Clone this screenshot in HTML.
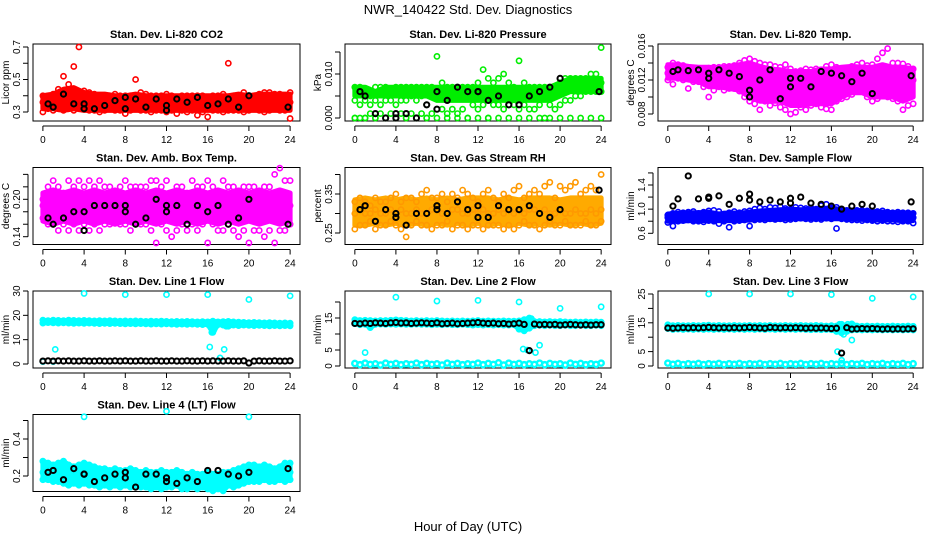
<!DOCTYPE html>
<html><head><meta charset="utf-8"><style>
body{margin:0;background:#fff;}
svg{display:block;font-family:"Liberation Sans",sans-serif;}
</style></head><body>
<svg id="chart" width="936" height="540" viewBox="0 0 936 540" xmlns="http://www.w3.org/2000/svg">
<text x="468" y="14" text-anchor="middle" font-size="13">NWR_140422  Std. Dev. Diagnostics</text>
<text x="468" y="531" text-anchor="middle" font-size="13">Hour of Day (UTC)</text>
</svg>
<script>
const hoursHalf = [0,0.5,1,1.5,2,2.5,3,3.5,4,4.5,5,5.5,6,6.5,7,7.5,8,8.5,9,9.5,10,10.5,11,11.5,12,12.5,13,13.5,14,14.5,15,15.5,16,16.5,17,17.5,18,18.5,19,19.5,20,20.5,21,21.5,22,22.5,23,23.5,24];
const hoursFull = [0.5,1,2,3,4,4,5,6,7,8,8,9,10,11,12,12,13,14,15,16,17,18,19,20,23.8];
const hoursBand = [0,1,2,3,4,5,6,7,8,9,10,11,12,13,14,15,16,17,18,19,20,21,22,23,24];
const xTicks = [0,4,8,12,16,20,24];

const co2BandTop = [.40,.41,.44,.45,.42,.41,.41,.40,.40,.41,.40,.40,.40,.40,.40,.40,.40,.40,.40,.41,.40,.41,.41,.41,.41];
const co2BandBot = [.32,.32,.31,.32,.31,.31,.31,.31,.31,.31,.31,.31,.31,.31,.31,.31,.31,.31,.31,.31,.31,.31,.31,.31,.31];
const co2Hi = [.40,.40,.41,.44,.52,.47,.58,.70,.43,.42,.41,.40,.40,.40,.41,.40,.40,.40,.50,.42,.41,.40,.40,.40,.41,.40,.39,.40,.40,.40,.40,.40,.39,.40,.40,.41,.60,.40,.39,.42,.40,.40,.41,.42,.42,.41,.41,.40,.42];
const co2Mid = [.36,.35,.37,.38,.36,.36,.37,.36,.36,.35,.36,.37,.35,.36,.36,.35,.36,.37,.35,.36,.36,.35,.36,.36,.35,.36,.36,.35,.36,.35,.36,.36,.35,.36,.35,.36,.36,.35,.36,.35,.36,.35,.36,.36,.37,.36,.36,.35,.36];
const co2Lo = [.30,.32,.31,.32,.31,.32,.31,.32,.32,.31,.31,.30,.31,.32,.31,.31,.29,.31,.32,.31,.31,.30,.31,.31,.30,.31,.29,.31,.30,.31,.28,.30,.27,.31,.31,.30,.31,.31,.31,.30,.31,.32,.31,.30,.31,.32,.31,.31,.26];
const co2Black = [.35,.33,.41,.35,.35,.32,.32,.34,.37,.32,.39,.38,.33,.38,.31,.34,.38,.36,.39,.34,.35,.38,.33,.40,.33];

const presBandTop = [.007,.007,.006,.007,.007,.007,.007,.007,.007,.007,.007,.007,.007,.007,.007,.007,.007,.007,.007,.007,.008,.009,.009,.009,.009];
const presBandBot = [.005,.005,.005,.005,.005,.005,.005,.005,.004,.004,.004,.004,.004,.004,.004,.004,.004,.004,.004,.004,.005,.006,.006,.006,.006];
const presHi = [.007,.007,.006,.005,.007,.007,.007,.006,.007,.007,.007,.007,.007,.007,.007,.007,.014,.008,.007,.007,.007,.007,.007,.007,.008,.011,.009,.008,.009,.010,.008,.007,.013,.008,.007,.007,.007,.007,.007,.007,.008,.009,.009,.009,.009,.009,.010,.010,.016];
const presMid = [.004,.003,.004,.003,.004,.003,.004,.004,.003,.004,.004,.005,.004,.005,.003,.005,.006,.006,.006,.005,.005,.006,.006,.006,.006,.006,.006,.006,.006,.006,.006,.005,.006,.005,.005,.005,.005,.005,.005,.006,.006,.007,.007,.008,.008,.008,.008,.008,.008];
const presLo = [0,0,0,.001,0,.001,0,.001,0,.001,0,.001,0,.001,0,.001,.002,.002,.001,.002,.001,.002,0,.003,.002,.003,0,.003,.003,.002,.003,.003,.002,.003,.002,.002,.003,0,.003,.002,.003,.004,.004,.005,.005,.006,.006,.006,.006];
const presZero = [0,0,0,0,0,0,0,0,0,0,0,0,0,0,0,0,0,0,0,0,0,0,0,0,0];
const presBlack = [.006,.005,.001,0,0,.001,.001,0,.003,.006,.002,.004,.007,.006,.006,.006,.004,.005,.003,.003,.005,.006,.007,.009,.006];

const ltBandTop = [.0138,.0138,.0136,.0135,.0135,.0134,.0136,.0138,.0140,.0136,.0133,.0132,.0130,.0130,.0130,.0133,.0133,.0135,.0136,.0135,.0135,.0138,.0135,.0135,.0133];
const ltBandBot = [.0122,.0122,.0120,.0118,.0112,.0112,.0110,.0108,.0100,.0095,.0095,.0095,.0090,.0090,.0092,.0092,.0092,.0100,.0105,.0105,.0100,.0100,.0100,.0095,.0100];
const ltHi = [.0135,.0140,.0138,.0137,.0135,.0134,.0133,.0132,.0134,.0135,.0135,.0136,.0136,.0137,.0140,.0143,.0145,.0142,.0140,.0138,.0138,.0136,.0135,.0138,.0133,.0130,.0131,.0133,.0132,.0133,.0132,.0136,.0138,.0135,.0133,.0134,.0136,.0138,.0140,.0137,.0138,.0145,.0152,.0157,.0140,.0140,.0139,.0136,.0133];
const ltMid = [.0128,.0129,.0128,.0130,.0130,.0128,.0124,.0125,.0122,.0126,.0124,.0125,.0124,.0123,.0123,.0122,.0120,.0118,.0115,.0118,.0116,.0118,.0114,.0112,.0110,.0113,.0115,.0112,.0115,.0116,.0113,.0112,.0113,.0116,.0117,.0118,.0122,.0124,.0122,.0120,.0118,.0120,.0124,.0122,.0118,.0117,.0115,.0118,.0120];
const ltLo = [.0120,.0115,.0122,.0120,.0110,.0118,.0118,.0112,.0100,.0108,.0112,.0108,.0110,.0110,.0107,.0100,.0095,.0092,.0085,.0095,.0090,.0093,.0088,.0085,.0080,.0082,.0088,.0085,.0090,.0092,.0088,.0086,.0085,.0095,.0098,.0100,.0103,.0110,.0108,.0100,.0095,.0098,.0102,.0100,.0098,.0095,.0085,.0090,.0092];
const ltBlack = [.0130,.0132,.0131,.0132,.0122,.0128,.0132,.0128,.0124,.0100,.0108,.0120,.0132,.0098,.0112,.0122,.0122,.0112,.0130,.0128,.0125,.0118,.0128,.0104,.0125];

const abBandTop = [.21,.215,.21,.215,.21,.215,.21,.215,.21,.215,.21,.215,.21,.215,.21,.215,.21,.215,.21,.215,.21,.215,.21,.215,.21];
const abBandBot = [.165,.16,.165,.16,.165,.16,.165,.16,.165,.16,.165,.16,.165,.16,.165,.16,.165,.16,.165,.16,.165,.16,.165,.16,.165];
const abHi = [.20,.22,.23,.22,.21,.23,.22,.23,.22,.23,.22,.23,.22,.22,.21,.22,.23,.22,.22,.22,.22,.23,.23,.22,.23,.21,.22,.22,.21,.23,.22,.22,.23,.22,.21,.23,.22,.22,.21,.22,.22,.22,.21,.22,.22,.24,.25,.23,.23];
const abMid = [.19,.18,.19,.18,.18,.19,.19,.18,.18,.19,.18,.19,.18,.18,.19,.18,.18,.19,.19,.18,.18,.19,.18,.18,.19,.18,.19,.18,.18,.19,.18,.19,.19,.18,.18,.19,.18,.19,.18,.18,.19,.18,.18,.19,.18,.19,.18,.18,.19];
const abLo = [.17,.16,.16,.15,.16,.15,.16,.15,.16,.15,.16,.15,.16,.16,.17,.16,.16,.15,.16,.16,.16,.15,.13,.16,.15,.14,.15,.16,.15,.16,.15,.16,.13,.16,.15,.15,.16,.15,.14,.15,.13,.15,.15,.14,.15,.13,.15,.15,.16];
const abBlack = [.17,.16,.17,.18,.18,.15,.19,.19,.19,.18,.19,.16,.17,.20,.18,.19,.19,.16,.19,.18,.19,.16,.17,.20,.16];

const rhBandTop = [.335,.34,.335,.34,.335,.34,.335,.34,.335,.34,.335,.34,.34,.34,.335,.34,.335,.34,.34,.34,.335,.34,.34,.34,.34];
const rhBandBot = [.27,.27,.275,.27,.275,.27,.275,.27,.275,.27,.275,.27,.275,.27,.275,.27,.275,.27,.275,.27,.275,.27,.275,.27,.275];
const rhHi = [.33,.34,.33,.32,.34,.33,.33,.34,.35,.33,.34,.34,.33,.35,.36,.34,.34,.35,.33,.35,.34,.36,.35,.34,.33,.35,.36,.34,.33,.35,.34,.36,.37,.34,.35,.36,.35,.37,.38,.34,.37,.36,.37,.38,.35,.36,.37,.36,.40];
const rhMid = [.30,.31,.30,.30,.31,.30,.30,.31,.30,.31,.30,.30,.31,.30,.30,.31,.31,.30,.30,.31,.31,.30,.30,.31,.30,.31,.30,.30,.31,.30,.31,.30,.31,.30,.31,.31,.30,.31,.30,.30,.31,.30,.30,.31,.30,.30,.31,.30,.31];
const rhLo = [.26,.27,.27,.28,.26,.27,.27,.28,.27,.26,.24,.27,.28,.27,.27,.26,.27,.27,.28,.26,.27,.27,.26,.27,.27,.26,.27,.27,.27,.26,.27,.26,.27,.28,.27,.27,.26,.27,.28,.27,.27,.28,.27,.27,.27,.28,.27,.27,.28];
const rhBlack = [.31,.32,.28,.31,.29,.30,.27,.30,.30,.31,.32,.30,.33,.31,.29,.32,.29,.32,.31,.31,.32,.30,.29,.31,.36];

const sfBandTop = [.92,.93,.94,.94,.95,.92,.94,.93,.95,.97,.98,.99,1.00,.99,1.00,1.01,1.02,.99,.98,.97,.96,.95,.94,.94,.93];
const sfBandBot = [.80,.80,.81,.81,.81,.81,.81,.81,.82,.83,.83,.83,.84,.84,.84,.84,.84,.84,.83,.83,.82,.82,.82,.81,.81];
const sfHi = [.90,.93,.95,.94,.95,.96,.93,.95,.97,.98,.96,.92,.94,.96,.94,.96,.97,1.00,1.02,1.00,1.03,1.02,1.04,1.01,1.00,1.03,1.02,1.01,1.02,1.00,1.06,1.08,1.02,1.03,1.00,.98,.97,.98,.98,.97,.96,.96,.97,.95,.94,.95,.94,.94,.93];
const sfMid = [.86,.85,.87,.86,.87,.86,.87,.88,.87,.88,.86,.85,.86,.87,.86,.87,.88,.89,.90,.90,.91,.91,.92,.91,.92,.92,.93,.92,.92,.91,.93,.94,.92,.92,.91,.90,.89,.89,.89,.88,.88,.88,.88,.87,.87,.87,.86,.86,.86];
const sfLo = [.78,.72,.80,.81,.82,.80,.80,.79,.81,.80,.76,.80,.70,.80,.81,.82,.72,.82,.83,.82,.84,.83,.84,.82,.83,.84,.85,.84,.83,.84,.83,.85,.84,.68,.84,.83,.82,.82,.81,.82,.81,.80,.81,.80,.80,.79,.80,.80,.77];
const sfBlack = [1.05,1.17,1.55,1.17,1.20,1.18,1.22,1.08,1.18,1.25,1.15,1.12,1.15,1.12,1.10,1.18,1.20,1.10,1.08,1.05,1.00,1.05,1.08,1.05,1.12];

const l1Hi = [18.0,17.8,18.0,17.9,17.8,18.0,17.9,17.8,17.9,17.8,17.7,17.8,17.7,17.8,17.7,17.6,17.7,17.6,17.7,17.6,17.5,17.6,17.5,17.6,17.5,17.4,17.5,17.4,17.5,17.4,17.3,17.4,17.3,17.6,17.3,17.4,17.5,17.3,17.2,17.1,17.0,17.1,17.0,16.9,17.0,16.9,16.8,16.9,16.8];
const l1Lo = [16.8,17.0,16.9,16.8,16.9,16.8,16.7,16.8,16.7,16.8,16.7,16.6,16.7,16.6,16.7,16.6,16.5,16.6,16.5,16.6,16.5,16.4,16.5,16.4,16.5,16.4,16.3,16.4,16.3,16.4,16.3,16.2,16.3,13.0,16.2,16.0,15.5,16.0,15.8,16.0,15.9,15.8,15.9,15.8,15.7,15.8,15.7,15.8,15.7];
const l1Black = [1.2,1.3,1.2,1.3,1.2,1.3,1.2,1.2,1.3,1.2,1.2,1.3,1.2,1.2,1.3,1.2,1.3,1.2,1.2,1.3,1.2,1.2,1.3,1.2,1.2,1.3,1.2,1.2,1.3,1.2,1.2,1.3,1.2,1.3,1.2,1.2,1.3,1.2,1.2,1.3,0.4,1.2,1.3,1.2,1.2,1.3,1.2,1.2,1.3];
const l1OutH = [0,1,1.2,4,8,12,16,16.2,16.4,16.6,17.2,17.6,17.8,20,24];
const l1OutV = [1,1,6,29,28.5,28.5,28.5,7,13,14,2.5,6,15.5,26.5,28];

const l2Hi = [14.5,14.2,14.3,14.2,14.1,14.2,14.2,14.3,14.4,14.3,14.2,14.1,14.2,14.1,14.2,14.1,14.2,14.1,14.0,14.1,14.0,14.1,14.0,14.1,14.2,14.0,14.1,14.0,14.0,14.1,14.0,14.0,14.1,14.5,15.0,13.9,13.9,13.8,13.9,13.8,13.9,13.8,13.7,13.8,13.7,13.8,13.7,13.8,13.7];
const l2Lo = [13.2,12.9,13.0,12.0,13.0,13.1,13.0,13.1,13.0,13.1,13.0,13.0,13.1,13.0,13.0,12.9,13.0,12.9,13.0,12.9,12.9,13.0,12.9,12.8,12.9,12.8,12.9,12.8,12.9,12.8,12.8,12.9,11.5,11.0,11.8,12.6,12.7,12.6,12.7,12.6,12.6,12.7,12.6,12.6,12.7,12.6,12.6,12.7,12.6];
const l2Base = [0.8,0.4,0.9,0.5,0.7,0.3,0.9,0.5,0.8,0.4,0.7,0.5,0.9,0.4,0.8,0.5,0.7,0.3,0.9,0.5,0.8,0.4,0.7,0.5,0.9,0.4,0.8,0.5,1.0,0.3,0.9,0.5,0.8,0.4,0.7,0.5,0.9,0.4,0.8,0.5,0.7,0.3,0.9,0.5,0.8,0.4,0.7,0.5,0.9];
const l2Black = [13.3,13.2,13.4,13.3,13.5,13.4,13.3,13.5,13.6,13.4,13.5,13.3,13.4,13.5,13.4,13.3,13.5,13.2,13.3,13.4,13.2,13.3,13.4,13.5,13.6,13.4,13.3,13.4,13.2,13.3,13.1,13.2,13.4,13.0,4.8,13.1,12.9,13.0,12.9,13.0,12.8,12.9,13.0,12.9,12.8,12.9,12.8,12.9,12.9];
const l2OutH = [1,4,8,12,16,16.4,16.8,17,17.2,17.6,18,20,24];
const l2OutV = [4.2,21.5,20.3,20.5,20,5.3,5,12,14.8,4.2,6.5,18,18.5];

const l3Hi = [14.3,14.0,14.1,14.0,14.0,14.1,14.0,14.1,14.2,14.0,14.1,14.0,14.0,14.1,14.0,14.0,14.1,14.0,14.1,14.0,14.1,14.0,14.0,14.1,14.0,14.0,14.1,14.0,14.0,14.1,14.0,13.9,14.0,13.9,14.5,13.9,14.6,13.9,13.8,13.9,13.8,13.9,13.8,13.8,13.9,13.8,13.8,13.9,13.8];
const l3Lo = [13.0,12.7,12.8,12.7,12.8,12.7,12.8,12.7,12.8,12.7,12.8,12.7,12.8,12.7,12.8,12.7,12.8,12.7,12.8,12.7,12.8,12.7,12.8,12.7,12.8,12.7,12.8,12.7,12.6,12.7,12.6,12.7,12.6,12.0,11.5,12.0,12.5,12.6,12.5,12.6,12.5,12.6,12.5,12.6,12.5,12.6,12.5,12.6,12.5];
const l3Base = [1.0,0.6,0.9,0.5,0.8,0.6,0.9,0.5,0.8,0.6,0.9,0.5,0.8,0.6,0.9,0.5,0.8,0.6,0.9,0.5,0.8,0.6,0.9,0.5,0.8,0.6,0.9,0.5,0.8,0.6,0.9,0.5,0.8,0.6,0.9,0.5,0.8,0.6,0.9,0.5,0.8,0.6,0.9,0.5,0.8,0.6,0.9,0.5,0.8];
const l3Black = [13.2,13.1,13.2,13.3,13.2,13.3,13.2,13.3,13.4,13.3,13.2,13.3,13.2,13.3,13.2,13.3,13.4,13.3,13.2,13.1,13.4,13.3,13.2,13.3,13.2,13.3,13.2,13.1,13.2,13.1,13.2,13.1,13.0,13.1,4.5,13.3,12.8,12.9,13.0,12.9,13.0,12.9,12.8,12.9,12.8,12.9,12.8,12.9,12.9];
const l3OutH = [4,8,12,16,16.6,16.8,17,17.2,17.6,18,20,24];
const l3OutV = [25,25,25,24.8,5,14.5,2,11,14.5,9,23.5,24];

const l4Hi = [.28,.27,.26,.27,.28,.26,.25,.26,.27,.26,.25,.24,.24,.23,.24,.23,.23,.24,.23,.22,.23,.22,.22,.23,.22,.22,.23,.22,.21,.22,.21,.21,.22,.21,.21,.22,.22,.23,.24,.25,.26,.26,.25,.26,.25,.24,.25,.27,.27];
const l4Mid = [.22,.22,.21,.22,.21,.20,.21,.20,.20,.21,.20,.19,.20,.19,.19,.20,.19,.20,.19,.19,.20,.19,.19,.18,.19,.19,.19,.18,.19,.18,.18,.19,.18,.18,.18,.19,.19,.20,.20,.21,.21,.21,.21,.22,.21,.21,.22,.21,.22];
const l4Lo = [.18,.18,.17,.17,.16,.15,.16,.15,.16,.15,.15,.14,.15,.14,.15,.14,.15,.14,.15,.14,.14,.13,.14,.13,.14,.14,.15,.13,.13,.14,.13,.14,.13,.12,.13,.12,.15,.14,.15,.16,.17,.17,.17,.18,.17,.17,.18,.17,.18];
const l4OutH = [4,12,20];
const l4OutV = [.52,.55,.52];
const l4Black = [.22,.23,.18,.24,.21,.21,.17,.19,.21,.22,.19,.14,.21,.21,.17,.19,.16,.19,.17,.23,.23,.21,.20,.22,.24];

const NS = 'http://www.w3.org/2000/svg';
const svg = document.getElementById('chart');
function mk(tag, attrs, parent){ const e=document.createElementNS(NS,tag); for(const k in attrs) e.setAttribute(k,attrs[k]); (parent||svg).appendChild(e); return e; }

const colX = [[33,300],[345,611],[658,923]];
const rowTop = [44,167.5,291,414.5];
const BOXH = 77;

function panel(o){
  const g = mk('g',{});
  
  
  const [L,R] = colX[o.col]; const T = rowTop[o.row]; const B = T+BOXH;
  const xs = h => L + (h+0.96)*(R-L)/25.92;
  const ys = v => o.ref[1] + (v-o.ref[0])*(o.ref[3]-o.ref[1])/(o.ref[2]-o.ref[0]);
  const box = mk('rect',{x:L,y:T,width:R-L,height:BOXH,fill:'none',stroke:'#000','stroke-width':1},g);
  
  
  const t = mk('text',{x:(L+R)/2,y:T-6,'text-anchor':'middle','font-size':11,'font-weight':'bold'},g);
  t.textContent = o.title;
  
  
  const xa = mk('g',{},g);
  
  
  mk('line',{x1:xs(0),x2:xs(24),y1:B+5,y2:B+5,stroke:'#000'},xa);
  xTicks.forEach(h=>{
    mk('line',{x1:xs(h),x2:xs(h),y1:B+5,y2:B+10,stroke:'#000'},xa);
    const tl = mk('text',{x:xs(h),y:B+22,'text-anchor':'middle','font-size':10},xa);
    tl.textContent = h;
    
    
  });
  const ya = mk('g',{},g);
  
  
  const ay0 = ys(o.yt[0]), ay1 = ys(o.yt[o.yt.length-1]);
  mk('line',{x1:L-5,x2:L-5,y1:ay0,y2:ay1,stroke:'#000'},ya);
  o.yt.forEach((v,i)=>{
    mk('line',{x1:L-5,x2:L-10,y1:ys(v),y2:ys(v),stroke:'#000'},ya);
    if(o.yl[i]){
      const tl = mk('text',{x:0,y:0,'text-anchor':'middle','font-size':10,transform:`translate(${L-13},${ys(v)}) rotate(-90)`},ya);
      tl.textContent = o.yl[i];
      
      
    }
  });
  const yt = mk('text',{x:0,y:0,'text-anchor':'middle','font-size':10,transform:`translate(${L-24},${(T+B)/2}) rotate(-90)`},g);
  yt.textContent = o.ylab;
  
  
  o.series.forEach(s=>{
    if(s.band){
      const pts = s.hours.map((h,i)=>xs(h)+','+ys(s.top[i])).concat(s.hours.slice().reverse().map((h,j)=>xs(h)+','+ys(s.bot[s.hours.length-1-j])));
      const p = mk('polygon',{points:pts.join(' '),fill:s.color,stroke:s.color,'stroke-width':5,'stroke-linejoin':'round'},g);
      
      
      return;
    }
    const sg = mk('g',{fill:'none',stroke:s.color,'stroke-width':s.w||1.6},g);
    
    
    s.vals.forEach((v,i)=>{
      const c = mk('circle',{cx:xs(s.hours[i]),cy:ys(v),r:2.6},sg);
      
      
    });
  });
}

const HH = hoursHalf, HF = hoursFull, HB = hoursBand;
panel({name:'panel-co2',col:0,row:0,title:'Stan. Dev. Li-820 CO2',ylab:'Licor ppm',ref:[.3,112,.7,47],yt:[.3,.4,.5,.6,.7],yl:['0.3','','0.5','','0.7'],
  series:[{band:1,name:'co2-cloud',color:'#ff0000',hours:HB,top:co2BandTop,bot:co2BandBot},{name:'co2-series-hi',color:'#ff0000',hours:HH,vals:co2Hi},{name:'co2-series-mid',color:'#ff0000',hours:HH,vals:co2Mid},{name:'co2-series-lo',color:'#ff0000',hours:HH,vals:co2Lo},{name:'co2-black-series',color:'#000',w:2,hours:HF,vals:co2Black}]});
panel({name:'panel-pressure',col:1,row:0,title:'Stan. Dev. Li-820 Pressure',ylab:'kPa',ref:[0,118,.01,74],yt:[0,.005,.01,.015],yl:['0.000','','0.010',''],
  series:[{band:1,name:'pressure-cloud',color:'#00ee00',hours:HB,top:presBandTop,bot:presBandBot},{name:'pressure-zero-row',color:'#00ee00',hours:HB,vals:presZero},{name:'pressure-series-hi',color:'#00ee00',hours:HH,vals:presHi},{name:'pressure-series-mid',color:'#00ee00',hours:HH,vals:presMid},{name:'pressure-series-lo',color:'#00ee00',hours:HH,vals:presLo},{name:'pressure-black-series',color:'#000',w:2,hours:HF,vals:presBlack}]});
panel({name:'panel-li820-temp',col:2,row:0,title:'Stan. Dev. Li-820 Temp.',ylab:'degrees C',ref:[.008,114,.016,46],yt:[.008,.010,.012,.014,.016],yl:['0.008','','0.012','','0.016'],
  series:[{band:1,name:'temp-cloud',color:'#ff00ff',hours:HB,top:ltBandTop,bot:ltBandBot},{name:'temp-series-hi',color:'#ff00ff',hours:HH,vals:ltHi},{name:'temp-series-mid',color:'#ff00ff',hours:HH,vals:ltMid},{name:'temp-series-lo',color:'#ff00ff',hours:HH,vals:ltLo},{name:'temp-black-series',color:'#000',w:2,hours:HF,vals:ltBlack}]});
panel({name:'panel-amb-box-temp',col:0,row:1,title:'Stan. Dev. Amb. Box Temp.',ylab:'degrees C',ref:[.14,236.7,.20,199.3],yt:[.14,.16,.18,.20,.22,.24],yl:['0.14','','','0.20','',''],
  series:[{band:1,name:'ambbox-cloud',color:'#ff00ff',hours:HB,top:abBandTop,bot:abBandBot},{name:'ambbox-series-hi',color:'#ff00ff',hours:HH,vals:abHi},{name:'ambbox-series-mid',color:'#ff00ff',hours:HH,vals:abMid},{name:'ambbox-series-lo',color:'#ff00ff',hours:HH,vals:abLo},{name:'ambbox-black-series',color:'#000',w:2,hours:HF,vals:abBlack}]});
panel({name:'panel-gas-stream-rh',col:1,row:1,title:'Stan. Dev. Gas Stream RH',ylab:'percent',ref:[.25,233,.35,194],yt:[.25,.30,.35,.40],yl:['0.25','','0.35',''],
  series:[{band:1,name:'rh-cloud',color:'#ffaa00',hours:HB,top:rhBandTop,bot:rhBandBot},{name:'rh-series-hi',color:'#ff9900',hours:HH,vals:rhHi},{name:'rh-series-mid',color:'#ff9900',hours:HH,vals:rhMid},{name:'rh-series-lo',color:'#ff9900',hours:HH,vals:rhLo},{name:'rh-black-series',color:'#000',w:2,hours:HF,vals:rhBlack}]});
panel({name:'panel-sample-flow',col:2,row:1,title:'Stan. Dev. Sample Flow',ylab:'ml/min',ref:[.6,233.3,1.4,185],yt:[.6,.8,1.0,1.2,1.4,1.6],yl:['0.6','','1.0','','1.4',''],
  series:[{band:1,name:'sample-flow-cloud',color:'#0000ff',hours:HB,top:sfBandTop,bot:sfBandBot},{name:'sample-flow-series-hi',color:'#0000ff',hours:HH,vals:sfHi},{name:'sample-flow-series-mid',color:'#0000ff',hours:HH,vals:sfMid},{name:'sample-flow-series-lo',color:'#0000ff',hours:HH,vals:sfLo},{name:'sample-flow-black-series',color:'#000',w:2,hours:HF,vals:sfBlack}]});
panel({name:'panel-line1-flow',col:0,row:2,title:'Stan. Dev. Line 1 Flow',ylab:'ml/min',ref:[0,364,30,291],yt:[0,10,20,30],yl:['0','10','20','30'],
  series:[{band:1,name:'line1-cloud',color:'#00ffff',hours:HH,top:l1Hi,bot:l1Lo},{name:'line1-cyan-hi',color:'#00ffff',hours:HH,vals:l1Hi},{name:'line1-cyan-lo',color:'#00ffff',hours:HH,vals:l1Lo},{name:'line1-cyan-outliers',color:'#00ffff',hours:l1OutH,vals:l1OutV},{name:'line1-black-series',color:'#000',w:2,hours:HH,vals:l1Black}]});
panel({name:'panel-line2-flow',col:1,row:2,title:'Stan. Dev. Line 2 Flow',ylab:'ml/min',ref:[0,366,15,318],yt:[0,5,10,15,20],yl:['0','5','','15',''],
  series:[{band:1,name:'line2-cloud',color:'#00ffff',hours:HH,top:l2Hi,bot:l2Lo},{name:'line2-cyan-hi',color:'#00ffff',hours:HH,vals:l2Hi},{name:'line2-cyan-lo',color:'#00ffff',hours:HH,vals:l2Lo},{name:'line2-cyan-base',color:'#00ffff',w:2.4,hours:HH,vals:l2Base},{name:'line2-cyan-outliers',color:'#00ffff',hours:l2OutH,vals:l2OutV},{name:'line2-black-series',color:'#000',w:2,hours:HH,vals:l2Black}]});
panel({name:'panel-line3-flow',col:2,row:2,title:'Stan. Dev. Line 3 Flow',ylab:'ml/min',ref:[0,366,25,294],yt:[0,5,10,15,20,25],yl:['0','5','','15','','25'],
  series:[{band:1,name:'line3-cloud',color:'#00ffff',hours:HH,top:l3Hi,bot:l3Lo},{name:'line3-cyan-hi',color:'#00ffff',hours:HH,vals:l3Hi},{name:'line3-cyan-lo',color:'#00ffff',hours:HH,vals:l3Lo},{name:'line3-cyan-base',color:'#00ffff',w:2.4,hours:HH,vals:l3Base},{name:'line3-cyan-outliers',color:'#00ffff',hours:l3OutH,vals:l3OutV},{name:'line3-black-series',color:'#000',w:2,hours:HH,vals:l3Black}]});
panel({name:'panel-line4-flow',col:0,row:3,title:'Stan. Dev. Line 4 (LT) Flow',ylab:'ml/min',ref:[.2,476,.4,439],yt:[.2,.3,.4,.5],yl:['0.2','','0.4',''],
  series:[{band:1,name:'line4-cloud',color:'#00ffff',hours:HH,top:l4Hi,bot:l4Lo},{name:'line4-cyan-hi',color:'#00ffff',hours:HH,vals:l4Hi},{name:'line4-cyan-mid',color:'#00ffff',hours:HH,vals:l4Mid},{name:'line4-cyan-lo',color:'#00ffff',hours:HH,vals:l4Lo},{name:'line4-cyan-outliers',color:'#00ffff',hours:l4OutH,vals:l4OutV},{name:'line4-black-series',color:'#000',w:2,hours:HF,vals:l4Black}]});
</script>
</body></html>
